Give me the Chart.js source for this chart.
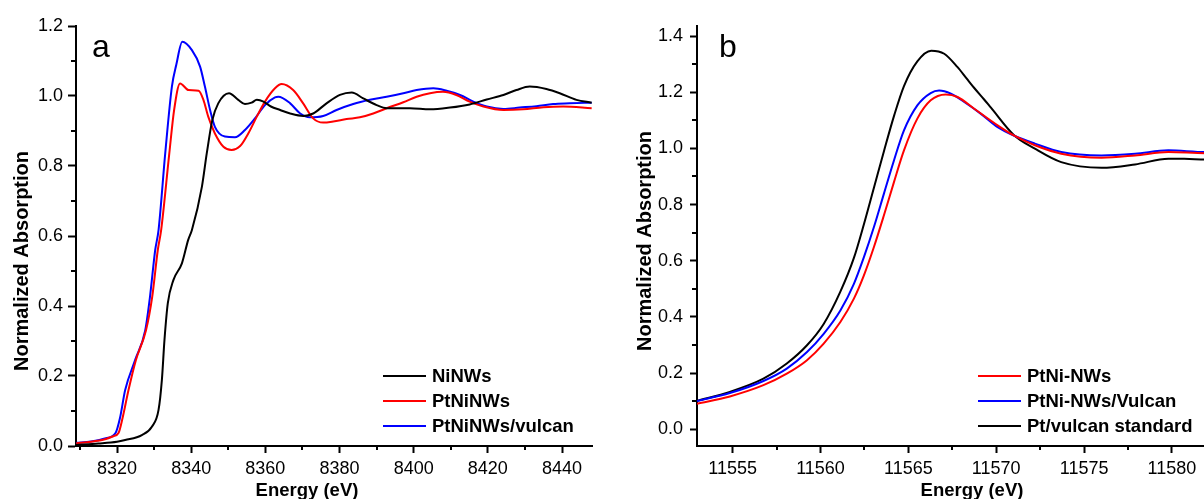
<!DOCTYPE html>
<html lang="en">
<head>
<meta charset="UTF-8">
<title>Normalized XANES spectra</title>
<script src="https://cdn.jsdelivr.net/npm/chart.js"></script>
<style>
    body {
        margin: 0;
        background: #fff;
        overflow: hidden;
        width: 1204px;
        height: 499px;
        position: relative;
    }
    canvas {
        position: absolute;
        top: 0;
    }
    #chartA { left: 0; }
    #chartB { left: 600px; }
</style>
</head>
<body>
<canvas id="chartA" width="600" height="499"></canvas>
<canvas id="chartB" width="670" height="499"></canvas>

<script>
    // ---- panel a: Ni K-edge ----
    const niE = [8309, 8315, 8320, 8322.2, 8326.7, 8329.4, 8331.2, 8332.1, 8332.8, 8333.7, 8335.2, 8337.5, 8339.2, 8340.2,
        8342.9, 8344.2, 8345.7, 8347.3, 8350.2, 8352.7, 8354.5, 8356.3, 8357.7, 8359.5, 8361.5, 8364, 8366.7, 8370.2,
        8372.9, 8376.5, 8380.1, 8383.3, 8386.4, 8390, 8392.7, 8399, 8404.4, 8409.8, 8415.1, 8419.7, 8424.2, 8427.7,
        8431.3, 8435.8, 8439.4, 8443.9, 8448];
    const niY = [0.003, 0.007, 0.012, 0.017, 0.031, 0.055, 0.103, 0.189, 0.303, 0.408, 0.474, 0.522, 0.589, 0.617,
        0.741, 0.836, 0.931, 0.979, 1.008, 0.989, 0.977, 0.981, 0.989, 0.984, 0.970, 0.960, 0.950, 0.943,
        0.950, 0.979, 1.003, 1.010, 0.993, 0.974, 0.965, 0.965, 0.962, 0.967, 0.976, 0.990, 1.003, 1.017,
        1.027, 1.020, 1.008, 0.989, 0.981];

    const ptniE = [8309, 8313, 8317, 8319, 8320.4, 8321.5, 8323.1, 8325.1, 8327.8, 8329.5, 8331.0, 8331.9, 8334.1, 8335.4,
        8337.0, 8339.3, 8342.0, 8343.3, 8344.6, 8346.4, 8348.7, 8350.9, 8353.2, 8355.4, 8357.7, 8359.9, 8362.6, 8364.4,
        8367.5, 8370.2, 8372.9, 8375.6, 8378.3, 8381.9, 8385.5, 8389.1, 8392.7, 8397.2, 8400.8, 8404.4, 8407.9, 8411.5,
        8415.1, 8418.8, 8424.2, 8429.5, 8435, 8440.3, 8448];
    const ptniY = [0.008, 0.012, 0.020, 0.028, 0.037, 0.080, 0.160, 0.246, 0.330, 0.427, 0.560, 0.617, 0.836, 0.960,
        1.036, 1.017, 1.015, 0.989, 0.941, 0.893, 0.855, 0.846, 0.857, 0.893, 0.941, 0.984, 1.022, 1.034,
        1.017, 0.979, 0.936, 0.924, 0.927, 0.934, 0.939, 0.950, 0.965, 0.982, 0.998, 1.008, 1.012, 1.003,
        0.984, 0.970, 0.960, 0.962, 0.968, 0.970, 0.965];

    const ptniVE = [8309, 8313, 8317, 8319.6, 8320.8, 8322.2, 8324.9, 8327.6, 8328.9, 8330.3, 8331.2, 8333.0, 8334.8, 8336.0,
        8337.6, 8340.2, 8342.4, 8343.7, 8345.1, 8346.4, 8349.1, 8351.8, 8354.5, 8357.2, 8359.9, 8362.6, 8363.5, 8366.7,
        8369.4, 8372.0, 8375.6, 8379.2, 8383.7, 8388.2, 8392.7, 8397.2, 8400.8, 8405.3, 8408.9, 8412.5, 8416.1, 8419.7,
        8424.2, 8428.6, 8433.1, 8437.6, 8442.1, 8448];
    const ptniVY = [0.009, 0.013, 0.022, 0.037, 0.080, 0.160, 0.246, 0.330, 0.427, 0.560, 0.617, 0.836, 1.027, 1.090,
        1.155, 1.131, 1.084, 1.027, 0.960, 0.912, 0.884, 0.882, 0.903, 0.936, 0.974, 0.996, 0.998, 0.979,
        0.950, 0.939, 0.943, 0.960, 0.977, 0.989, 0.998, 1.008, 1.017, 1.022, 1.015, 1.003, 0.984, 0.970,
        0.963, 0.967, 0.971, 0.977, 0.979, 0.981];

    const xTicksA = [8320, 8340, 8360, 8380, 8400, 8420, 8440];
    const xMinorA = [8310, 8330, 8350, 8370, 8390, 8410, 8430];
    const yTicksA = [0, 0.2, 0.4, 0.6, 0.8, 1.0, 1.2];
    const yMinorA = [0.1, 0.3, 0.5, 0.7, 0.9, 1.1];
    const labelsA = ['NiNWs', 'PtNiNWs', 'PtNiNWs/vulcan'];

    // ---- panel b: Pt L3-edge ----
    const pnE = [11552.97, 11554.84, 11556.75, 11558.08, 11559.23, 11560.18, 11561.13, 11561.9, 11562.47, 11563.04,
        11563.61, 11564.18, 11564.75, 11565.51, 11566.27, 11567.13, 11567.8, 11568.75, 11570.08, 11571.0,
        11572.2, 11573.7, 11576.0, 11577.9, 11579.8, 11581.9, 11583.5];
    const pnY = [0.091, 0.117, 0.157, 0.198, 0.246, 0.305, 0.382, 0.465, 0.548, 0.649,
        0.762, 0.880, 0.993, 1.106, 1.171, 1.192, 1.183, 1.141, 1.082, 1.046,
        1.011, 0.981, 0.967, 0.975, 0.987, 0.983, 0.985];

    const pnvE = [11552.97, 11554.84, 11556.75, 11558.08, 11559.23, 11560.18, 11561.13, 11561.9, 11562.47, 11563.04,
        11563.61, 11564.18, 11564.75, 11565.51, 11566.27, 11566.75, 11567.42, 11568.18, 11569.13, 11570.08,
        11571.0, 11572.2, 11573.7, 11576.0, 11577.9, 11579.8, 11581.9, 11583.5];
    const pnvY = [0.101, 0.129, 0.172, 0.216, 0.275, 0.340, 0.423, 0.518, 0.613, 0.720,
        0.839, 0.957, 1.064, 1.153, 1.197, 1.206, 1.195, 1.165, 1.123, 1.076,
        1.046, 1.017, 0.987, 0.975, 0.981, 0.993, 0.987, 0.990];

    const ptE = [11552.97, 11554.84, 11556.75, 11558.08, 11559.23, 11560.18, 11561.13, 11561.9, 11562.47, 11563.04,
        11563.61, 11564.18, 11564.75, 11565.51, 11566.3, 11567.04, 11567.8, 11568.3, 11568.75, 11569.3,
        11569.7, 11571.0, 11572.2, 11573.7, 11576.0, 11577.9, 11579.8, 11580.7, 11581.9, 11583.5];
    const ptY = [0.101, 0.133, 0.180, 0.234, 0.299, 0.375, 0.490, 0.610, 0.730, 0.860,
        0.990, 1.115, 1.222, 1.310, 1.348, 1.337, 1.289, 1.250, 1.215, 1.175,
        1.145, 1.048, 0.999, 0.951, 0.931, 0.943, 0.963, 0.963, 0.960, 0.962];

    const xTicksB = [11555, 11560, 11565, 11570, 11575, 11580];
    const xMinorB = [11557.5, 11562.5, 11567.5, 11572.5, 11577.5, 11582.5];
    const yTicksB = [0, 0.2, 0.4, 0.6, 0.8, 1.0, 1.2, 1.4];
    const yMinorB = [0.1, 0.3, 0.5, 0.7, 0.9, 1.1, 1.3];
    const labelsB = ['PtNi-NWs', 'PtNi-NWs/Vulcan', 'Pt/vulcan standard'];

    const xTitle = 'Energy (eV)';
    const yTitle = 'Normalized Absorption';
    const FONT = '"Liberation Sans", Arial, Helvetica, sans-serif';

    function pts(xs, ys) {
        return xs.map((x, i) => ({ x: x, y: ys[i] }));
    }

    function line(label, xs, ys, color) {
        return {
            label: label,
            data: pts(xs, ys),
            borderColor: color,
            backgroundColor: color,
            borderWidth: 2,
            pointRadius: 0,
            cubicInterpolationMode: 'monotone',
            fill: false
        };
    }

    // minor ticks, legend, axis titles and panel letter
    const decor = {
        id: 'decor',
        afterDraw(chart, args, o) {
            const ctx = chart.ctx;
            const a = chart.chartArea;
            const xs = chart.scales.x;
            const ys = chart.scales.y;
            ctx.save();
            ctx.strokeStyle = '#000';
            ctx.lineWidth = 2;
            o.xMinor.forEach(v => {
                const p = Math.round(xs.getPixelForValue(v));
                ctx.beginPath();
                ctx.moveTo(p, a.bottom);
                ctx.lineTo(p, a.bottom + 4);
                ctx.stroke();
            });
            o.yMinor.forEach(v => {
                const p = Math.round(ys.getPixelForValue(v));
                ctx.beginPath();
                ctx.moveTo(a.left, p);
                ctx.lineTo(a.left - 5, p);
                ctx.stroke();
            });

            // legend
            ctx.font = 'bold 18.5px ' + FONT;
            ctx.textBaseline = 'middle';
            ctx.textAlign = 'left';
            o.legendOrder.forEach((idx, k) => {
                const ds = chart.data.datasets[idx];
                const y = a.bottom - 70 + k * 25;
                ctx.strokeStyle = ds.borderColor;
                ctx.beginPath();
                ctx.moveTo(o.legendX, y);
                ctx.lineTo(o.legendX + 43, y);
                ctx.stroke();
                ctx.fillStyle = '#000';
                ctx.fillText(ds.label, o.legendX + 49, y + 1);
            });

            // axis titles
            ctx.fillStyle = '#000';
            ctx.textAlign = 'center';
            ctx.textBaseline = 'alphabetic';
            ctx.font = 'bold 18.5px ' + FONT;
            ctx.fillText(xTitle, o.xTitleX, 496);
            ctx.save();
            ctx.translate(o.yTitleX, o.yTitleY);
            ctx.rotate(-Math.PI / 2);
            ctx.font = 'bold 20px ' + FONT;
            ctx.textBaseline = 'middle';
            ctx.fillText(yTitle, 0, 0);
            ctx.restore();

            // panel letter
            ctx.font = '32px ' + FONT;
            ctx.textAlign = 'left';
            ctx.fillText(o.letter, a.left + o.letterDx, 57);
            ctx.restore();
        }
    };

    function makeChart(id, datasets, cfg) {
        return new Chart(document.getElementById(id), {
            type: 'line',
            data: { datasets: datasets },
            plugins: [decor],
            options: {
                responsive: false,
                animation: false,
                devicePixelRatio: 1,
                layout: { padding: { top: 26, right: cfg.padRight, bottom: 0, left: 0 } },
                plugins: {
                    legend: { display: false },
                    tooltip: { enabled: false },
                    decor: cfg.decor
                },
                scales: {
                    x: {
                        type: 'linear',
                        min: cfg.xMin,
                        max: cfg.xMax,
                        afterFit: s => { s.height = 53; },
                        afterBuildTicks: s => { s.ticks = cfg.xTicks.map(v => ({ value: v })); },
                        grid: { drawOnChartArea: false, drawTicks: true, tickLength: 7, tickWidth: 2, tickColor: '#000' },
                        border: { display: true, color: '#000', width: 2 },
                        ticks: {
                            color: '#000',
                            font: { family: FONT, size: 18 },
                            padding: 5,
                            maxRotation: 0,
                            autoSkip: false,
                            callback: v => String(v)
                        }
                    },
                    y: {
                        type: 'linear',
                        min: cfg.yMin,
                        max: cfg.yMax,
                        afterFit: s => { s.width = cfg.yWidth; },
                        afterBuildTicks: s => { s.ticks = cfg.yTicks.map(v => ({ value: v })); },
                        grid: { drawOnChartArea: false, drawTicks: true, tickLength: cfg.yTickLen, tickWidth: 2, tickColor: '#000' },
                        border: { display: true, color: '#000', width: 2 },
                        ticks: {
                            color: '#000',
                            font: { family: FONT, size: 18 },
                            padding: cfg.yPad,
                            autoSkip: false,
                            callback: v => v.toFixed(1)
                        }
                    }
                }
            }
        });
    }

    makeChart('chartA', [
        line(labelsA[0], niE, niY, '#000000'),
        line(labelsA[1], ptniE, ptniY, '#ff0000'),
        line(labelsA[2], ptniVE, ptniVY, '#0000ff')
    ], {
        padRight: 8, xMin: 8308.94, xMax: 8448.09, yMin: 0, yMax: 1.2,
        xTicks: xTicksA, yTicks: yTicksA, yWidth: 76, yTickLen: 8, yPad: 5,
        decor: {
            xMinor: xMinorA, yMinor: yMinorA, legendOrder: [0, 1, 2], legendX: 383,
            xTitleX: 307, yTitleX: 22, yTitleY: 261, letter: 'a', letterDx: 16
        }
    });

    makeChart('chartB', [
        line(labelsB[0], pnE, pnY, '#ff0000'),
        line(labelsB[1], pnvE, pnvY, '#0000ff'),
        line(labelsB[2], ptE, ptY, '#000000')
    ], {
        padRight: 12, xMin: 11552.97, xMax: 11584.9, yMin: -0.0595, yMax: 1.4357,
        xTicks: xTicksB, yTicks: yTicksB, yWidth: 97, yTickLen: 7, yPad: 7,
        decor: {
            xMinor: xMinorB, yMinor: yMinorB, legendOrder: [0, 1, 2], legendX: 378,
            xTitleX: 372, yTitleX: 45, yTitleY: 241, letter: 'b', letterDx: 22
        }
    });
</script>
</body>
</html>
